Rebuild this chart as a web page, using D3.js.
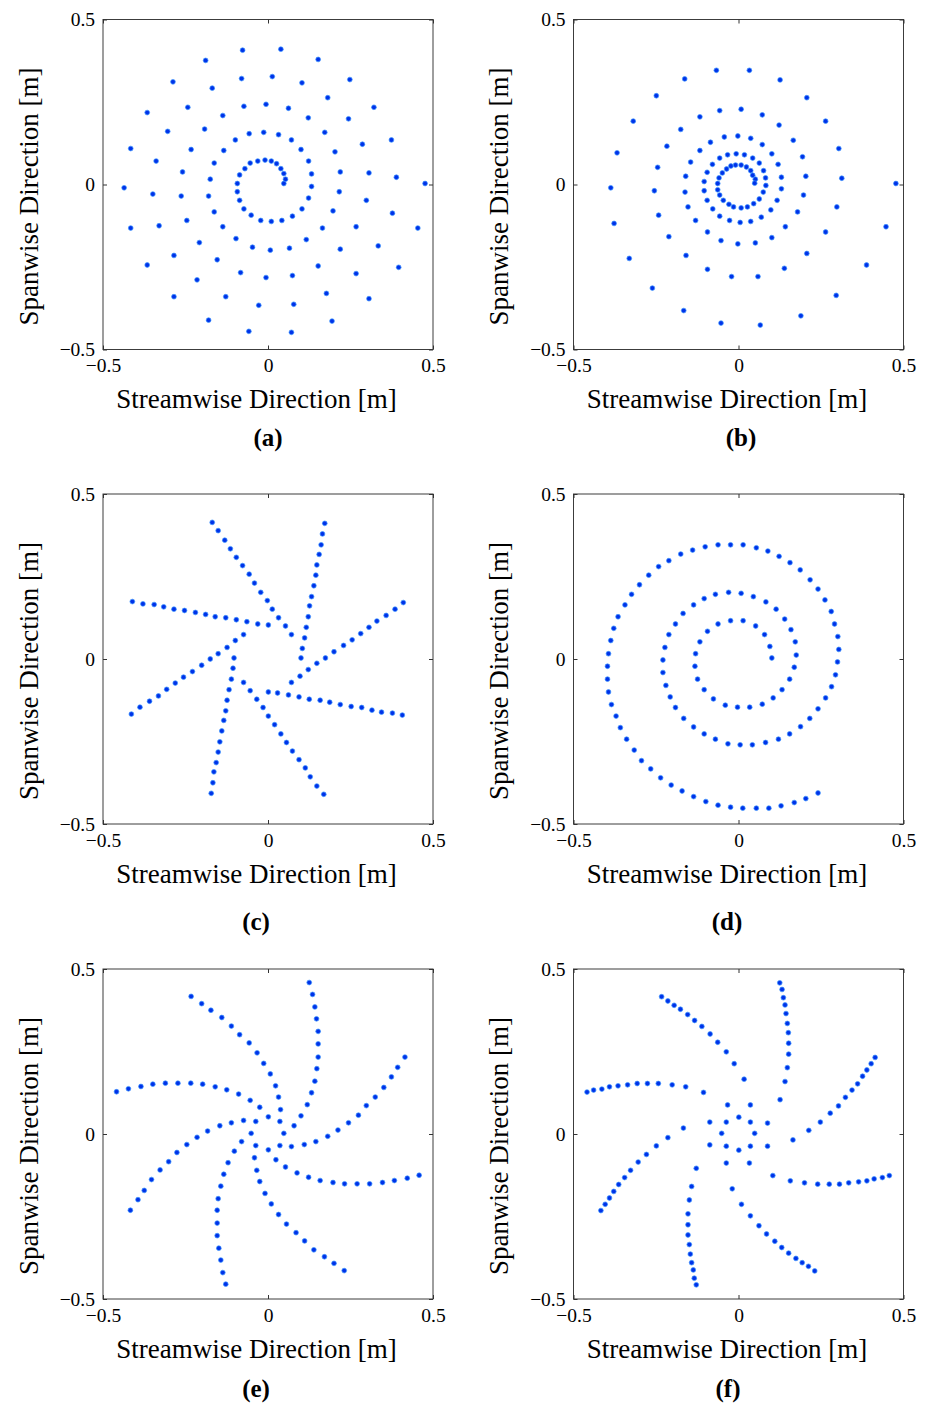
<!DOCTYPE html>
<meta charset="utf-8">
<style>
body { margin: 0; background: #fff; }
svg { display: block; font-family: "Liberation Serif", "DejaVu Serif", serif; }
.axis text { font-size: 19.5px; fill: #000; font-family: "Liberation Serif", "DejaVu Serif", serif; }
.axis line { stroke: #333; }
.axis .domain { display: none; }
</style>
<svg width="931" height="1403"></svg>
<script src="https://d3js.org/d3.v7.min.js"></script>
<script>
// values, [streamwise, spanwise] in metres
var pointsA = [
  [-0.077,0.407],[0.039,0.410],[-0.189,0.376],[0.152,0.379],[-0.288,0.311],[-0.080,0.321],[0.013,0.327],[0.103,0.308],
  [0.248,0.318],[-0.169,0.292],[0.181,0.263],[-0.366,0.218],[-0.243,0.234],[-0.073,0.237],[-0.006,0.243],[0.062,0.231],
  [0.321,0.234],[-0.137,0.209],[0.122,0.202],[0.244,0.199],[-0.304,0.161],[-0.192,0.168],[-0.057,0.154],[-0.013,0.158],
  [0.032,0.151],[0.172,0.158],[-0.099,0.135],[0.071,0.135],[0.374,0.135],[0.286,0.122],[-0.416,0.109],[-0.233,0.106],
  [-0.134,0.103],[0.100,0.106],[0.203,0.099],[-0.339,0.071],[-0.163,0.065],[-0.031,0.071],[-0.009,0.074],[0.010,0.071],
  [0.026,0.063],[-0.054,0.065],[-0.070,0.048],[0.039,0.048],[0.123,0.071],[0.048,0.033],[-0.086,0.029],[-0.259,0.038],
  [0.132,0.032],[0.219,0.038],[0.306,0.035],[0.389,0.022],[-0.175,0.016],[0.053,0.016],[-0.093,0.003],[0.048,0.003],
  [0.476,0.003],[-0.436,-0.010],[0.132,-0.006],[-0.093,-0.022],[-0.349,-0.029],[-0.263,-0.035],[-0.180,-0.035],[0.216,-0.022],
  [-0.086,-0.048],[0.123,-0.041],[0.298,-0.048],[-0.073,-0.074],[0.103,-0.074],[-0.163,-0.083],[0.197,-0.080],[0.377,-0.087],
  [-0.051,-0.093],[-0.022,-0.109],[0.010,-0.112],[0.042,-0.109],[0.074,-0.096],[-0.416,-0.132],[-0.330,-0.125],[-0.246,-0.109],
  [-0.137,-0.128],[0.165,-0.132],[0.267,-0.128],[0.454,-0.132],[-0.097,-0.164],[0.116,-0.167],[-0.208,-0.176],[-0.047,-0.190],
  [0.007,-0.199],[0.065,-0.193],[0.219,-0.196],[0.334,-0.186],[-0.285,-0.215],[-0.154,-0.228],[0.152,-0.247],[0.396,-0.251],
  [-0.366,-0.244],[-0.083,-0.267],[-0.006,-0.282],[0.074,-0.276],[0.267,-0.270],[-0.215,-0.289],[0.177,-0.330],[-0.285,-0.340],
  [-0.128,-0.340],[-0.028,-0.366],[0.078,-0.363],[0.306,-0.346],[-0.180,-0.411],[0.194,-0.414],[-0.058,-0.445],[0.071,-0.448]
];
var pointsB = [
  [-0.067,0.346],[0.033,0.346],[-0.163,0.320],[0.126,0.317],[-0.249,0.269],[0.207,0.263],[-0.319,0.192],[0.264,0.192],
  [-0.117,0.205],[-0.057,0.224],[0.008,0.228],[0.072,0.211],[-0.175,0.167],[0.123,0.180],[-0.217,0.116],[0.166,0.134],
  [-0.368,0.096],[0.304,0.109],[-0.085,0.128],[-0.043,0.144],[-0.002,0.147],[0.037,0.140],[0.072,0.121],[-0.117,0.103],
  [0.101,0.093],[0.194,0.084],[-0.145,0.068],[-0.079,0.061],[-0.057,0.080],[-0.033,0.090],[-0.007,0.093],[0.018,0.090],
  [0.043,0.080],[0.063,0.065],[0.120,0.061],[-0.023,0.056],[-0.009,0.059],[0.008,0.059],[0.024,0.053],[-0.036,0.047],
  [-0.049,0.035],[0.037,0.042],[0.076,0.042],[-0.095,0.037],[-0.245,0.052],[-0.160,0.025],[-0.059,0.020],[0.043,0.028],
  [0.082,0.020],[0.130,0.022],[0.204,0.025],[0.313,0.019],[0.477,0.003],[-0.104,0.009],[0.051,0.016],[-0.063,0.003],
  [0.049,0.004],[-0.387,-0.010],[-0.255,-0.019],[-0.162,-0.023],[-0.104,-0.019],[-0.063,-0.016],[0.083,-0.003],[0.130,-0.013],
  [0.197,-0.032],[-0.057,-0.032],[0.075,-0.023],[-0.095,-0.048],[-0.046,-0.048],[0.063,-0.044],[0.117,-0.048],[-0.153,-0.068],
  [-0.029,-0.060],[-0.015,-0.068],[0.008,-0.071],[0.027,-0.068],[0.046,-0.058],[0.098,-0.077],[0.179,-0.083],[0.298,-0.068],
  [-0.078,-0.074],[-0.242,-0.093],[-0.130,-0.109],[-0.057,-0.096],[-0.027,-0.109],[0.005,-0.115],[0.037,-0.112],[0.069,-0.099],
  [-0.377,-0.118],[0.142,-0.128],[0.447,-0.128],[-0.094,-0.144],[0.101,-0.161],[0.264,-0.144],[-0.211,-0.158],[-0.053,-0.170],
  [-0.002,-0.180],[0.051,-0.177],[-0.331,-0.224],[-0.159,-0.215],[0.207,-0.209],[-0.094,-0.257],[-0.021,-0.279],[0.059,-0.279],
  [0.139,-0.254],[0.388,-0.244],[-0.261,-0.314],[0.296,-0.336],[-0.166,-0.382],[0.189,-0.398],[-0.053,-0.420],[0.066,-0.426]
];
var pointsC = [
  [-0.169,0.414],[-0.151,0.389],[-0.131,0.360],[-0.114,0.334],[-0.096,0.308],[-0.077,0.283],[-0.057,0.257],[-0.041,0.230],
  [-0.022,0.202],[-0.002,0.177],[0.013,0.151],[0.032,0.125],[0.053,0.100],[0.071,0.074],
  [0.172,0.411],[0.165,0.379],[0.161,0.346],[0.155,0.317],[0.148,0.285],[0.145,0.254],[0.139,0.222],[0.132,0.189],
  [0.126,0.161],[0.122,0.128],[0.116,0.096],[0.111,0.064],[0.104,0.032],[0.100,0.003],
  [-0.411,0.174],[-0.379,0.167],[-0.345,0.165],[-0.316,0.158],[-0.285,0.151],[-0.253,0.147],[-0.220,0.141],[-0.189,0.135],
  [-0.160,0.128],[-0.128,0.125],[-0.096,0.119],[-0.064,0.113],[-0.031,0.106],[0.001,0.103],
  [0.410,0.171],[0.385,0.151],[0.358,0.132],[0.330,0.115],[0.306,0.096],[0.281,0.077],[0.255,0.058],[0.229,0.041],
  [0.200,0.022],[0.174,0.003],[0.148,-0.013],[0.122,-0.032],[0.097,-0.052],[0.071,-0.071],
  [-0.414,-0.167],[-0.388,-0.146],[-0.359,-0.128],[-0.332,-0.112],[-0.307,-0.092],[-0.281,-0.073],[-0.256,-0.055],[-0.229,-0.038],
  [-0.201,-0.019],[-0.175,0.000],[-0.151,0.016],[-0.124,0.035],[-0.099,0.056],[-0.074,0.074],
  [-0.172,-0.407],[-0.167,-0.375],[-0.164,-0.342],[-0.157,-0.314],[-0.151,-0.282],[-0.146,-0.251],[-0.140,-0.218],[-0.134,-0.186],
  [-0.128,-0.157],[-0.124,-0.125],[-0.118,-0.093],[-0.111,-0.061],[-0.106,-0.028],[-0.103,0.003],
  [0.407,-0.170],[0.377,-0.164],[0.344,-0.161],[0.315,-0.155],[0.284,-0.147],[0.252,-0.144],[0.219,-0.138],[0.187,-0.131],
  [0.158,-0.125],[0.125,-0.122],[0.094,-0.115],[0.062,-0.109],[0.029,-0.103],[0.001,-0.100],
  [0.169,-0.410],[0.148,-0.385],[0.128,-0.357],[0.113,-0.330],[0.094,-0.305],[0.074,-0.279],[0.056,-0.253],[0.039,-0.227],
  [0.020,-0.199],[0.001,-0.173],[-0.015,-0.147],[-0.034,-0.122],[-0.054,-0.096],[-0.074,-0.071]
];
var pointsD = [
  [0.101,0.003],[0.095,0.038],[0.079,0.074],[0.052,0.100],[0.014,0.116],[-0.024,0.116],[-0.062,0.106],[-0.094,0.084],
  [-0.117,0.052],[-0.130,0.016],[-0.132,-0.022],[-0.124,-0.061],[-0.104,-0.093],[-0.076,-0.121],[-0.040,-0.140],[-0.003,-0.146],
  [0.034,-0.146],[0.072,-0.137],[0.105,-0.118],[0.132,-0.093],[0.155,-0.061],[0.169,-0.025],[0.175,0.012],[0.172,0.052],
  [0.159,0.089],[0.140,0.121],[0.114,0.151],[0.083,0.173],[0.045,0.189],[0.008,0.199],[-0.030,0.202],[-0.070,0.196],
  [-0.104,0.183],[-0.136,0.164],[-0.168,0.138],[-0.191,0.106],[-0.211,0.074],[-0.223,0.035],[-0.229,-0.003],[-0.229,-0.041],
  [-0.220,-0.080],[-0.207,-0.115],[-0.191,-0.147],[-0.166,-0.180],[-0.136,-0.206],[-0.104,-0.227],[-0.070,-0.243],[-0.032,-0.257],
  [0.005,-0.260],[0.042,-0.260],[0.082,-0.253],[0.121,-0.243],[0.155,-0.227],[0.188,-0.205],[0.216,-0.180],[0.241,-0.151],
  [0.264,-0.118],[0.282,-0.084],[0.294,-0.048],[0.300,-0.009],[0.304,0.029],[0.301,0.068],[0.291,0.106],[0.281,0.144],
  [0.262,0.179],[0.241,0.212],[0.217,0.240],[0.187,0.270],[0.156,0.292],[0.123,0.311],[0.089,0.327],[0.054,0.337],
  [0.014,0.346],[-0.024,0.346],[-0.062,0.346],[-0.101,0.340],[-0.139,0.330],[-0.175,0.318],[-0.211,0.298],[-0.242,0.280],
  [-0.272,0.254],[-0.300,0.225],[-0.324,0.196],[-0.344,0.164],[-0.365,0.128],[-0.378,0.093],[-0.387,0.056],[-0.394,0.016],
  [-0.397,-0.022],[-0.397,-0.061],[-0.394,-0.100],[-0.385,-0.138],[-0.371,-0.173],[-0.358,-0.208],[-0.339,-0.243],[-0.316,-0.276],
  [-0.294,-0.308],[-0.266,-0.333],[-0.236,-0.360],[-0.204,-0.382],[-0.171,-0.400],[-0.136,-0.417],[-0.099,-0.432],[-0.062,-0.443],
  [-0.024,-0.449],[0.013,-0.452],[0.054,-0.452],[0.092,-0.452],[0.129,-0.445],[0.169,-0.435],[0.204,-0.423],[0.241,-0.406]
];
var pointsE = [
  [-0.233,0.417],[-0.201,0.395],[-0.173,0.375],[-0.140,0.353],[-0.111,0.327],[-0.086,0.301],[-0.057,0.276],[-0.033,0.246],
  [-0.013,0.214],[0.007,0.182],[0.023,0.146],[0.032,0.112],[0.038,0.074],[0.036,0.038],
  [0.125,0.459],[0.135,0.423],[0.142,0.385],[0.147,0.349],[0.152,0.311],[0.152,0.273],[0.152,0.233],[0.148,0.198],
  [0.142,0.160],[0.132,0.125],[0.119,0.089],[0.100,0.055],[0.079,0.025],[0.048,0.002],
  [0.415,0.233],[0.393,0.202],[0.374,0.173],[0.351,0.141],[0.325,0.112],[0.298,0.086],[0.274,0.057],[0.244,0.034],
  [0.212,0.012],[0.181,-0.007],[0.145,-0.023],[0.110,-0.032],[0.071,-0.038],[0.036,-0.035],
  [0.458,-0.125],[0.422,-0.134],[0.383,-0.141],[0.347,-0.147],[0.308,-0.151],[0.270,-0.151],[0.232,-0.151],[0.197,-0.147],
  [0.158,-0.141],[0.123,-0.131],[0.088,-0.118],[0.053,-0.100],[0.024,-0.078],[0.001,-0.048],
  [0.231,-0.414],[0.200,-0.392],[0.171,-0.372],[0.139,-0.351],[0.111,-0.324],[0.085,-0.299],[0.056,-0.273],[0.032,-0.244],
  [0.010,-0.212],[-0.009,-0.180],[-0.025,-0.144],[-0.034,-0.110],[-0.041,-0.072],[-0.037,-0.035],
  [-0.128,-0.455],[-0.137,-0.420],[-0.143,-0.382],[-0.149,-0.346],[-0.154,-0.308],[-0.154,-0.270],[-0.154,-0.231],[-0.151,-0.196],
  [-0.143,-0.158],[-0.134,-0.122],[-0.121,-0.087],[-0.102,-0.052],[-0.080,-0.023],[-0.051,0.002],
  [-0.417,-0.231],[-0.394,-0.199],[-0.375,-0.171],[-0.353,-0.138],[-0.327,-0.109],[-0.301,-0.084],[-0.276,-0.056],[-0.246,-0.032],
  [-0.215,-0.010],[-0.183,0.009],[-0.146,0.025],[-0.111,0.034],[-0.074,0.041],[-0.037,0.038],
  [-0.459,0.128],[-0.423,0.137],[-0.385,0.144],[-0.349,0.151],[-0.311,0.154],[-0.273,0.154],[-0.234,0.154],[-0.198,0.151],
  [-0.160,0.143],[-0.125,0.134],[-0.089,0.121],[-0.054,0.102],[-0.025,0.081],[0.001,0.052]
];
var pointsF = [
  [-0.233,0.416],[-0.214,0.403],[-0.195,0.390],[-0.176,0.378],[-0.154,0.362],[-0.133,0.344],[-0.111,0.326],[-0.086,0.303],
  [-0.063,0.278],[-0.037,0.249],[-0.013,0.213],[0.017,0.166],[0.036,0.088],[0.036,0.036],
  [0.125,0.458],[0.132,0.438],[0.136,0.413],[0.141,0.391],[0.144,0.365],[0.148,0.335],[0.151,0.307],[0.152,0.275],
  [0.152,0.242],[0.148,0.201],[0.141,0.159],[0.126,0.104],[0.088,0.033],[0.049,0.002],
  [0.414,0.232],[0.402,0.213],[0.389,0.194],[0.376,0.175],[0.361,0.152],[0.344,0.133],[0.324,0.111],[0.303,0.085],
  [0.278,0.063],[0.248,0.036],[0.213,0.011],[0.165,-0.018],[0.088,-0.037],[0.036,-0.037],
  [0.457,-0.126],[0.436,-0.132],[0.411,-0.136],[0.389,-0.142],[0.364,-0.145],[0.334,-0.148],[0.306,-0.152],[0.275,-0.152],
  [0.240,-0.152],[0.200,-0.148],[0.157,-0.142],[0.104,-0.126],[0.033,-0.088],[0.001,-0.049],
  [0.231,-0.415],[0.212,-0.401],[0.193,-0.390],[0.174,-0.377],[0.152,-0.361],[0.131,-0.344],[0.110,-0.325],[0.085,-0.303],
  [0.062,-0.278],[0.036,-0.248],[0.009,-0.213],[-0.019,-0.166],[-0.037,-0.088],[-0.037,-0.037],
  [-0.128,-0.457],[-0.134,-0.437],[-0.137,-0.412],[-0.142,-0.390],[-0.146,-0.364],[-0.149,-0.335],[-0.153,-0.306],[-0.153,-0.275],
  [-0.153,-0.242],[-0.149,-0.200],[-0.142,-0.159],[-0.128,-0.104],[-0.087,-0.033],[-0.051,0.002],
  [-0.417,-0.232],[-0.404,-0.213],[-0.391,-0.194],[-0.378,-0.174],[-0.363,-0.153],[-0.345,-0.132],[-0.327,-0.110],[-0.304,-0.085],
  [-0.279,-0.062],[-0.249,-0.036],[-0.214,-0.011],[-0.167,0.018],[-0.087,0.036],[-0.037,0.036],
  [-0.459,0.127],[-0.439,0.133],[-0.414,0.136],[-0.391,0.143],[-0.365,0.146],[-0.336,0.149],[-0.307,0.153],[-0.276,0.153],
  [-0.243,0.153],[-0.201,0.149],[-0.160,0.143],[-0.106,0.126],[-0.033,0.088],[0.001,0.051]
];

var tickValues = [-0.5, 0, 0.5];
var tickLabels = ["\u22120.5", "0", "0.5"];
var panelNames = ["(a)", "(b)", "(c)", "(d)", "(e)", "(f)"];
var xTitle = "Streamwise Direction [m]";
var yTitle = "Spanwise Direction [m]";

var panels = [pointsA, pointsB, pointsC, pointsD, pointsE, pointsF];

var svg = d3.select("svg"),
    size = 330,
    colLeft = [103, 573.5],
    rowTop = [19.5, 494, 969],
    nameX = [268, 741, 256, 727, 256, 728],
    nameY = [446, 446, 930, 930, 1397, 1397];

var x = d3.scaleLinear().domain([-0.5, 0.5]).range([0, size]),
    y = d3.scaleLinear().domain([-0.5, 0.5]).range([size, 0]);

function fmt(d) { return tickLabels[tickValues.indexOf(d)]; }

panels.forEach(function(pts, i) {
  var col = i % 2, row = Math.floor(i / 2);
  var g = svg.append("g")
      .attr("transform", "translate(" + colLeft[col] + "," + rowTop[row] + ")");

  g.append("rect")
      .attr("width", size)
      .attr("height", size)
      .attr("fill", "none")
      .attr("stroke", "#3c3c3c")
      .attr("stroke-width", 1);

  g.append("g").attr("class", "axis")
      .attr("transform", "translate(0," + size + ")")
      .call(d3.axisBottom(x).tickValues(tickValues).tickSizeInner(-4).tickSizeOuter(0)
        .tickPadding(9).tickFormat(fmt));
  g.append("g").attr("class", "axis")
      .call(d3.axisTop(x).tickValues(tickValues).tickSizeInner(-4).tickSizeOuter(0).tickFormat(""));
  g.append("g").attr("class", "axis")
      .call(d3.axisLeft(y).tickValues(tickValues).tickSizeInner(-4).tickSizeOuter(0)
        .tickPadding(8).tickFormat(fmt));
  g.append("g").attr("class", "axis")
      .attr("transform", "translate(" + size + ",0)")
      .call(d3.axisRight(y).tickValues(tickValues).tickSizeInner(-4).tickSizeOuter(0).tickFormat(""));

  g.selectAll("circle")
    .data(pts)
    .enter().append("circle")
      .attr("cx", function(d) { return x(d[0]); })
      .attr("cy", function(d) { return y(d[1]); })
      .attr("r", 2.4)
      .attr("fill", "#0032e8")
      .attr("stroke", "#3f96ff")
      .attr("stroke-width", 0.7);

  g.append("text")
      .attr("x", size / 2 - 11.5)
      .attr("y", 388.5)
      .attr("text-anchor", "middle")
      .attr("font-size", 27)
      .text(xTitle);

  g.append("text")
      .attr("transform", "translate(-65.5," + (size / 2 + 12) + ") rotate(-90)")
      .attr("text-anchor", "middle")
      .attr("font-size", 27)
      .text(yTitle);

  svg.append("text")
      .attr("x", nameX[i])
      .attr("y", nameY[i])
      .attr("text-anchor", "middle")
      .attr("font-size", 25)
      .attr("font-weight", "bold")
      .text(panelNames[i]);
});
</script>
